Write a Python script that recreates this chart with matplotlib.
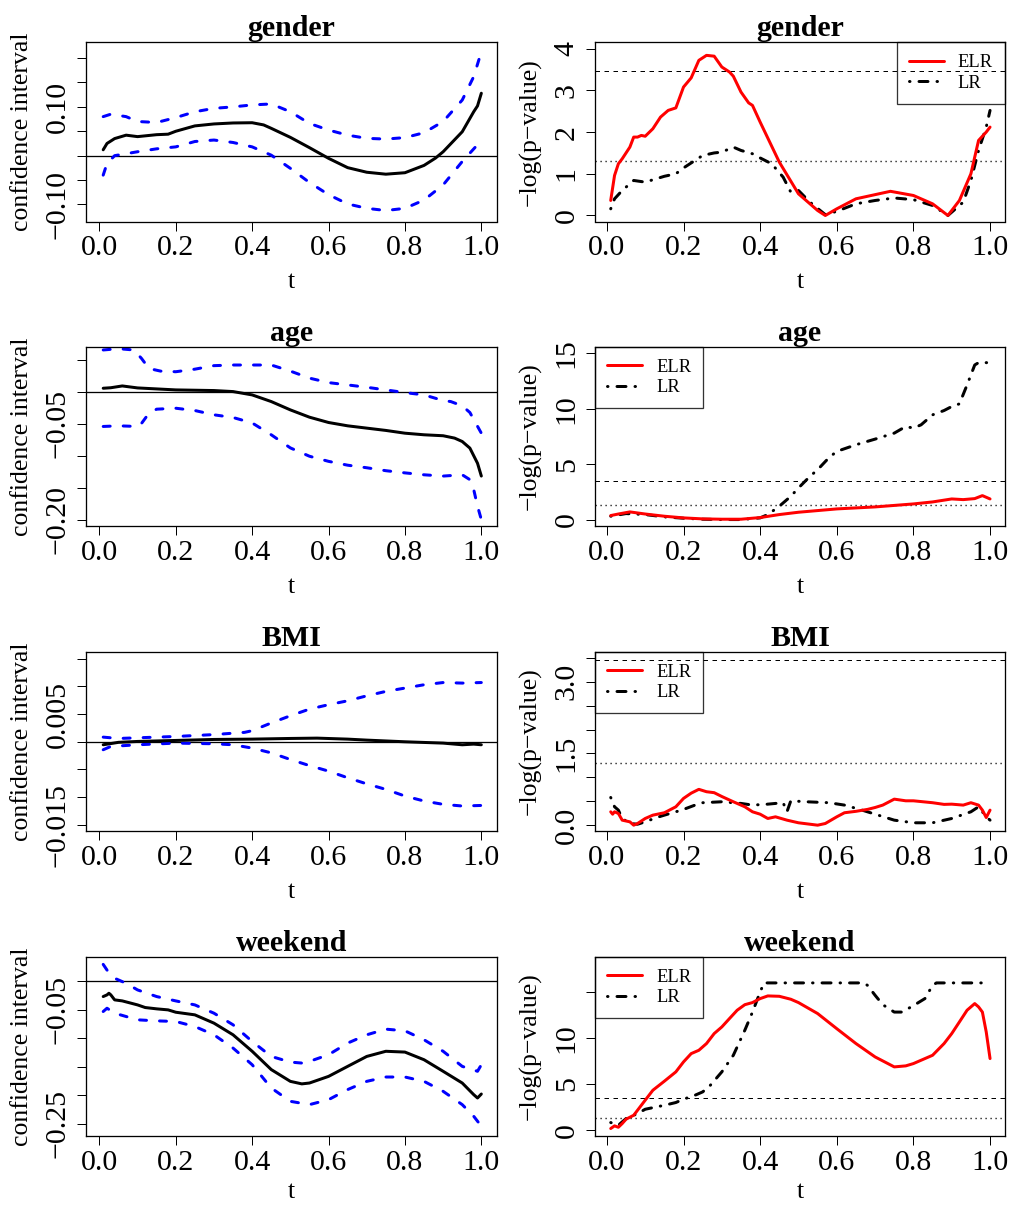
import matplotlib
matplotlib.use("Agg")
import matplotlib.pyplot as plt
import numpy as np

plt.rcParams['font.family'] = ['Liberation Serif', 'DejaVu Serif']
plt.rcParams['lines.scale_dashes'] = False

# ---------------- data ----------------
# gender: confidence interval (estimate, upper, lower)
gender_t_est = [0.01, 0.02, 0.04, 0.07, 0.10, 0.15, 0.18, 0.20, 0.25, 0.30, 0.35, 0.40, 0.43, 0.45, 0.50,
                0.55, 0.60, 0.65, 0.70, 0.75, 0.80, 0.85, 0.88, 0.90, 0.95, 0.98, 0.99, 1.00]
gender_est = [0.012, 0.025, 0.035, 0.042, 0.039, 0.043, 0.044, 0.050, 0.061, 0.065, 0.067, 0.0675, 0.063, 0.056,
              0.0375, 0.0164, -0.0055, -0.0246, -0.034, -0.038, -0.035, -0.020, -0.005, 0.008, 0.049, 0.090,
              0.102, 0.128]
gender_t_up = [0.01, 0.03, 0.07, 0.10, 0.15, 0.20, 0.25, 0.30, 0.35, 0.40, 0.45, 0.50, 0.55, 0.60, 0.65, 0.70,
               0.75, 0.80, 0.85, 0.90, 0.95, 0.98, 1.00]
gender_up = [0.080, 0.085, 0.080, 0.070, 0.068, 0.078, 0.090, 0.097, 0.100, 0.104, 0.106, 0.090, 0.066, 0.0525,
             0.042, 0.0355, 0.034, 0.037, 0.047, 0.070, 0.114, 0.162, 0.213]
gender_t_lo = [0.01, 0.02, 0.04, 0.10, 0.15, 0.20, 0.25, 0.30, 0.35, 0.40, 0.45, 0.50, 0.55, 0.60, 0.65, 0.70,
               0.75, 0.80, 0.85, 0.90, 0.95, 1.00]
gender_lo = [-0.040, -0.016, 0.0, 0.008, 0.014, 0.018, 0.029, 0.032, 0.027, 0.018, 0.001, -0.026, -0.055, -0.080,
             -0.099, -0.108, -0.1125, -0.108, -0.091, -0.060, -0.012, 0.031]

# gender: -log(p-value)
gender_t_elr = [0.01, 0.02, 0.03, 0.04, 0.06, 0.07, 0.08, 0.09, 0.10, 0.12, 0.14, 0.16, 0.18, 0.20, 0.22, 0.24,
                0.26, 0.28, 0.30, 0.32, 0.33, 0.35, 0.37, 0.38, 0.40, 0.45, 0.50, 0.55, 0.57, 0.60, 0.65, 0.70,
                0.74, 0.80, 0.85, 0.89, 0.92, 0.95, 0.97, 0.99, 1.00]
gender_elr = [0.36, 0.96, 1.24, 1.36, 1.64, 1.88, 1.88, 1.92, 1.90, 2.08, 2.36, 2.52, 2.58, 3.08, 3.30, 3.72,
              3.84, 3.82, 3.56, 3.44, 3.34, 2.96, 2.70, 2.64, 2.24, 1.28, 0.52, 0.12, 0.0, 0.16, 0.40, 0.50,
              0.58, 0.48, 0.28, 0.0, 0.36, 1.00, 1.80, 2.00, 2.12]
gender_t_lr = [0.01, 0.02, 0.04, 0.06, 0.07, 0.10, 0.15, 0.18, 0.20, 0.25, 0.28, 0.30, 0.33, 0.35, 0.38, 0.40,
               0.43, 0.46, 0.48, 0.50, 0.53, 0.57, 0.60, 0.65, 0.70, 0.75, 0.80, 0.85, 0.89, 0.93, 0.95, 0.97,
               0.99, 1.00]
gender_lr = [0.16, 0.40, 0.60, 0.76, 0.84, 0.80, 0.94, 1.00, 1.14, 1.44, 1.50, 1.52, 1.64, 1.56, 1.48, 1.38,
             1.24, 0.92, 0.56, 0.60, 0.32, 0.02, 0.10, 0.28, 0.36, 0.42, 0.38, 0.24, 0.0, 0.32, 0.84, 1.56,
             2.12, 2.52]

# age: confidence interval
age_t_est = [0.01, 0.03, 0.06, 0.10, 0.20, 0.30, 0.35, 0.40, 0.45, 0.50, 0.55, 0.60, 0.65, 0.70, 0.75, 0.80,
             0.85, 0.90, 0.93, 0.95, 0.97, 0.99, 1.00]
age_est = [0.0052, 0.006, 0.0088, 0.0057, 0.0026, 0.0016, 0.0, -0.0052, -0.0156, -0.0286, -0.040, -0.0483,
           -0.0535, -0.0571, -0.0607, -0.065, -0.0675, -0.069, -0.0727, -0.078, -0.0883, -0.112, -0.132]
age_t_up = [0.01, 0.05, 0.09, 0.11, 0.13, 0.16, 0.20, 0.25, 0.30, 0.35, 0.40, 0.45, 0.50, 0.55, 0.60, 0.65,
            0.70, 0.75, 0.80, 0.85, 0.90, 0.92, 0.95, 0.97, 1.00]
age_up = [0.065, 0.067, 0.065, 0.052, 0.036, 0.032, 0.031, 0.035, 0.0405, 0.0415, 0.0415, 0.0415, 0.032, 0.021,
          0.014, 0.0104, 0.0067, 0.0026, -0.0016, -0.0052, -0.014, -0.0156, -0.0223, -0.0327, -0.065]
age_t_lo = [0.01, 0.05, 0.10, 0.11, 0.13, 0.15, 0.20, 0.25, 0.30, 0.35, 0.40, 0.45, 0.50, 0.55, 0.60, 0.65,
            0.70, 0.75, 0.80, 0.85, 0.90, 0.95, 0.97, 0.98, 0.99, 1.00]
age_lo = [-0.0545, -0.0535, -0.0545, -0.050, -0.0337, -0.0275, -0.026, -0.0296, -0.0363, -0.0405, -0.049,
          -0.0675, -0.088, -0.101, -0.109, -0.115, -0.119, -0.1236, -0.127, -0.130, -0.132, -0.130, -0.1376,
          -0.153, -0.179, -0.200]

# age: -log(p-value)
age_t_elr = [0.01, 0.03, 0.06, 0.10, 0.15, 0.20, 0.25, 0.30, 0.35, 0.40, 0.45, 0.50, 0.60, 0.70, 0.80, 0.85,
             0.90, 0.93, 0.96, 0.98, 1.00]
age_elr = [0.36, 0.50, 0.69, 0.50, 0.30, 0.15, 0.06, 0.03, 0.03, 0.18, 0.45, 0.66, 0.96, 1.14, 1.41, 1.59,
           1.86, 1.80, 1.89, 2.16, 1.86]
age_t_lr = [0.01, 0.05, 0.10, 0.15, 0.20, 0.25, 0.30, 0.35, 0.40, 0.42, 0.45, 0.48, 0.50, 0.53, 0.55, 0.58,
            0.60, 0.65, 0.70, 0.75, 0.78, 0.80, 0.82, 0.85, 0.88, 0.90, 0.92, 0.94, 0.96, 0.97, 1.00]
age_lr = [0.30, 0.54, 0.45, 0.24, 0.12, 0.03, 0.0, 0.0, 0.15, 0.45, 1.20, 2.10, 2.85, 3.90, 4.50, 5.60, 6.15,
          6.75, 7.26, 7.80, 8.40, 8.25, 8.55, 9.45, 9.84, 10.20, 10.44, 12.15, 13.95, 14.16, 14.16]

# BMI: confidence interval
bmi_t_est = [0.01, 0.05, 0.10, 0.20, 0.30, 0.40, 0.50, 0.57, 0.65, 0.70, 0.80, 0.90, 0.95, 0.98, 1.00]
bmi_est = [-0.00054, -0.0001, 0.00006, 0.00024, 0.00042, 0.00048, 0.0006, 0.00066, 0.00048, 0.0003, 0.0,
           -0.00024, -0.00054, -0.00042, -0.00054]
bmi_t_up = [0.01, 0.05, 0.10, 0.20, 0.30, 0.38, 0.40, 0.45, 0.50, 0.55, 0.60, 0.65, 0.70, 0.75, 0.80, 0.85,
            0.90, 0.95, 1.00]
bmi_up = [0.00084, 0.0006, 0.00072, 0.00096, 0.0013, 0.0017, 0.0020, 0.0034, 0.0047, 0.0059, 0.0067, 0.0074,
          0.0083, 0.0091, 0.0097, 0.0103, 0.0107, 0.0106, 0.0107]
bmi_t_lo = [0.01, 0.03, 0.10, 0.20, 0.30, 0.35, 0.40, 0.45, 0.50, 0.55, 0.60, 0.65, 0.70, 0.75, 0.80, 0.85,
            0.90, 0.95, 1.00]
bmi_lo = [-0.00144, -0.00084, -0.00054, -0.00024, -0.00036, -0.00054, -0.00114, -0.0020, -0.0032, -0.0043,
          -0.0053, -0.0065, -0.0076, -0.0086, -0.0098, -0.0107, -0.0113, -0.0116, -0.0115]

# BMI: -log(p-value)
bmi_t_elr = [0.01, 0.015, 0.02, 0.03, 0.04, 0.06, 0.07, 0.08, 0.10, 0.12, 0.15, 0.18, 0.20, 0.22, 0.24, 0.26,
             0.28, 0.30, 0.33, 0.36, 0.38, 0.40, 0.42, 0.44, 0.47, 0.50, 0.55, 0.57, 0.60, 0.62, 0.65, 0.68,
             0.70, 0.72, 0.75, 0.78, 0.80, 0.85, 0.88, 0.90, 0.93, 0.95, 0.97, 0.98, 0.99, 1.00]
bmi_elr = [0.28, 0.23, 0.28, 0.245, 0.105, 0.07, 0.0, 0.035, 0.14, 0.21, 0.26, 0.385, 0.56, 0.67, 0.75, 0.70,
           0.68, 0.60, 0.49, 0.385, 0.28, 0.23, 0.14, 0.175, 0.105, 0.05, 0.0, 0.035, 0.175, 0.26, 0.29, 0.33,
           0.37, 0.42, 0.545, 0.51, 0.51, 0.47, 0.435, 0.44, 0.42, 0.47, 0.42, 0.315, 0.16, 0.315]
bmi_t_lr = [0.01, 0.02, 0.03, 0.04, 0.06, 0.08, 0.10, 0.13, 0.15, 0.18, 0.20, 0.23, 0.25, 0.30, 0.35, 0.38,
            0.42, 0.46, 0.47, 0.48, 0.52, 0.58, 0.62, 0.66, 0.70, 0.75, 0.80, 0.85, 0.90, 0.95, 0.97, 0.99,
            1.00]
bmi_lr = [0.58, 0.385, 0.315, 0.14, 0.035, 0.02, 0.07, 0.16, 0.21, 0.28, 0.33, 0.42, 0.47, 0.49, 0.455, 0.42,
          0.44, 0.47, 0.28, 0.51, 0.49, 0.47, 0.42, 0.33, 0.23, 0.105, 0.05, 0.05, 0.14, 0.28, 0.385, 0.175,
          0.105]

# weekend: confidence interval
wk_t_est = [0.01, 0.02, 0.025, 0.03, 0.04, 0.06, 0.10, 0.12, 0.15, 0.18, 0.20, 0.25, 0.30, 0.35, 0.40, 0.45,
            0.50, 0.53, 0.55, 0.60, 0.65, 0.70, 0.75, 0.80, 0.85, 0.90, 0.95, 0.98, 0.99, 1.00]
wk_est = [-0.0273, -0.0244, -0.0215, -0.0244, -0.0331, -0.0349, -0.0419, -0.0465, -0.0488, -0.0506, -0.0547,
          -0.0593, -0.0738, -0.0942, -0.123, -0.155, -0.1756, -0.180, -0.1785, -0.1669, -0.1494, -0.132,
          -0.123, -0.1244, -0.1378, -0.158, -0.1785, -0.1988, -0.2047, -0.1977]
wk_t_up = [0.01, 0.02, 0.04, 0.07, 0.10, 0.15, 0.20, 0.25, 0.30, 0.35, 0.40, 0.45, 0.50, 0.53, 0.55, 0.60,
           0.65, 0.70, 0.75, 0.80, 0.85, 0.90, 0.95, 0.99, 1.00]
wk_up = [0.029, 0.019, 0.0047, -0.0041, -0.0157, -0.0273, -0.0349, -0.0419, -0.0564, -0.0767, -0.1058, -0.132,
         -0.1419, -0.1436, -0.1407, -0.129, -0.1087, -0.0942, -0.0843, -0.0872, -0.1029, -0.123, -0.1494,
         -0.158, -0.1465]
wk_t_lo = [0.01, 0.02, 0.04, 0.07, 0.10, 0.15, 0.20, 0.25, 0.30, 0.35, 0.40, 0.45, 0.50, 0.55, 0.60, 0.65,
           0.70, 0.75, 0.80, 0.85, 0.90, 0.95, 0.98, 1.00]
wk_lo = [-0.0535, -0.0477, -0.0564, -0.0622, -0.068, -0.0698, -0.0709, -0.0797, -0.0942, -0.1174, -0.1465,
         -0.1872, -0.2105, -0.2163, -0.2076, -0.190, -0.1756, -0.168, -0.168, -0.1756, -0.193, -0.2163,
         -0.2366, -0.254]

# weekend: -log(p-value)
wk_t_elr = [0.01, 0.02, 0.03, 0.04, 0.05, 0.07, 0.10, 0.12, 0.15, 0.18, 0.20, 0.22, 0.24, 0.26, 0.28, 0.30,
            0.32, 0.34, 0.36, 0.38, 0.40, 0.42, 0.45, 0.48, 0.50, 0.55, 0.60, 0.65, 0.70, 0.75, 0.78, 0.80,
            0.85, 0.88, 0.90, 0.92, 0.94, 0.96, 0.97, 0.98, 0.99, 1.00]
wk_elr = [0.18, 0.47, 0.32, 0.72, 1.19, 1.62, 3.25, 4.33, 5.31, 6.32, 7.40, 8.30, 8.66, 9.39, 10.47, 11.19,
          12.10, 13.00, 13.60, 13.83, 14.26, 14.55, 14.51, 14.19, 13.83, 12.64, 11.00, 9.39, 7.94, 6.86, 6.97,
          7.22, 8.12, 9.39, 10.47, 11.73, 13.00, 13.72, 13.36, 12.80, 10.65, 7.76]
wk_t_lr = [0.01, 0.03, 0.05, 0.08, 0.10, 0.13, 0.15, 0.18, 0.20, 0.23, 0.25, 0.27, 0.30, 0.33, 0.36, 0.38,
           0.40, 0.41, 0.50, 0.67, 0.68, 0.70, 0.72, 0.75, 0.77, 0.80, 0.83, 0.85, 0.86, 1.00]
wk_lr = [0.83, 0.54, 1.26, 1.80, 2.27, 2.53, 2.70, 3.00, 3.36, 3.79, 4.15, 4.87, 6.32, 8.12, 10.83, 12.80,
         14.98, 15.96, 15.96, 15.96, 15.70, 14.62, 13.60, 12.80, 12.80, 13.50, 14.26, 15.70, 15.96, 15.96]

titles = ["gender", "age", "BMI", "weekend"]
thr_dashed = 3.46
thr_dotted = 1.30
legend_labels = ["ELR", "LR"]

# ---------------- layout / style ----------------
W, H = 1011, 1205
fig = plt.figure(figsize=(W / 100, H / 100), dpi=100)

px = 0.72  # points per pixel at 100 dpi
row_tops = [42, 346.7, 651.7, 956.7]
ph = 179.5
L_x0, L_w = 86, 411
R_x0, R_w = 595, 410

TICK_FS = 21.5
LAB_FS = 18.5
TITLE_FS = 21.5
LEG_FS = 13.3

blue_ls = (0, (7 * px, 13 * px))
thr_dash_ls = (0, (4.5 * px, 4.5 * px))
dot_ls = (0, (1.2 * px, 3.8 * px))
dashdot_ls = (0, (0.5 * px, 9 * px, 9 * px, 9 * px))


def make_ax(x0, top, w):
    return fig.add_axes([x0 / W, 1 - (top + ph) / H, w / W, ph / H])


def style(ax, xlim, ylim, yticks, ylabels, ylab, ylab_x, tlab_off):
    ax.set_xlim(*xlim)
    ax.set_ylim(*ylim)
    ax.set_xticks([0, 0.2, 0.4, 0.6, 0.8, 1.0])
    ax.set_xticklabels(["0.0", "0.2", "0.4", "0.6", "0.8", "1.0"])
    ax.set_yticks(yticks)
    ax.set_yticklabels(ylabels, rotation=90, va='center')
    ax.tick_params(axis='both', direction='out', length=9 * px, width=1 * px, labelsize=TICK_FS)
    ax.tick_params(axis='x', pad=3.2)
    ax.tick_params(axis='y', pad=4.5)
    for s in ax.spines.values():
        s.set_linewidth(1.3 * px)
    ax.set_xlabel("t", fontsize=LAB_FS)
    ax.xaxis.label.set_va('center')
    ax.xaxis.set_label_coords(0.5, -tlab_off / ph)
    ax.set_ylabel(ylab, fontsize=LAB_FS)
    ax.yaxis.label.set_va('center')
    ax.yaxis.set_label_coords(ylab_x, 0.5)


def fmt(v, nd):
    s = f"{v:.{nd}f}"
    return s.replace("-", "\u2212")


ci_data = [
    (gender_t_est, gender_est, gender_t_up, gender_up, gender_t_lo, gender_lo,
     (-0.135, 0.233), [-0.10, -0.05, 0, 0.05, 0.10, 0.15, 0.20], {-0.10, 0.10}, 2),
    (age_t_est, age_est, age_t_up, age_up, age_t_lo, age_lo,
     (-0.2103, 0.0701), [-0.20, -0.15, -0.10, -0.05, 0, 0.05], {-0.20, -0.05}, 2),
    (bmi_t_est, bmi_est, bmi_t_up, bmi_up, bmi_t_lo, bmi_lo,
     (-0.01615, 0.01627), [-0.015, -0.010, -0.005, 0, 0.005, 0.010, 0.015], {-0.015, 0.005}, 3),
    (wk_t_est, wk_est, wk_t_up, wk_up, wk_t_lo, wk_lo,
     (-0.2715, 0.0424), [-0.25, -0.20, -0.15, -0.10, -0.05, 0], {-0.25, -0.05}, 2),
]

p_data = [
    (gender_t_elr, gender_elr, gender_t_lr, gender_lr, (-0.144, 4.16), [0, 1, 2, 3, 4], {0, 1, 2, 3, 4}, 0,
     'upper right'),
    (age_t_elr, age_elr, age_t_lr, age_lr, (-0.6, 15.6), [0, 5, 10, 15], {0, 5, 10, 15}, 0, 'upper left'),
    (bmi_t_elr, bmi_elr, bmi_t_lr, bmi_lr, (-0.126, 3.63), [0, 0.5, 1.0, 1.5, 2.0, 2.5, 3.0, 3.5],
     {0.0, 1.5, 3.0}, 1, 'upper left'),
    (wk_t_elr, wk_elr, wk_t_lr, wk_lr, (-0.65, 18.8), [0, 5, 10, 15], {0, 5, 10}, 0, 'upper left'),
]

for i in range(4):
    top = row_tops[i]
    tlab_off = 60.5 if i < 3 else 55.5
    # ---- left: confidence intervals ----
    te, e, tu, u, tl, lo, ylim, yt, shown, nd = ci_data[i]
    ax = make_ax(L_x0, top, L_w)
    ax.axhline(0, color='black', lw=1.3 * px, zorder=1)
    ax.plot(tu, u, color='blue', lw=3 * px, ls=blue_ls, dash_capstyle='round', zorder=2)
    ax.plot(tl, lo, color='blue', lw=3 * px, ls=blue_ls, dash_capstyle='round', zorder=2)
    ax.plot(te, e, color='black', lw=3 * px, solid_capstyle='round', solid_joinstyle='round', zorder=3)
    labels = [fmt(v, nd) if any(abs(v - s) < 1e-9 for s in shown) else "" for v in yt]
    style(ax, (-0.035, 1.041), ylim, yt, labels, "confidence interval", -64 / L_w, tlab_off)
    ax.set_title(titles[i], fontsize=TITLE_FS, fontweight='bold', pad=2.5)

    # ---- right: -log(p-value) ----
    t1, y1, t2, y2, ylim, yt, shown, nd, loc = p_data[i]
    ax = make_ax(R_x0, top, R_w)
    ax.axhline(thr_dashed, color='black', lw=1.0 * px, ls=thr_dash_ls, zorder=1)
    ax.axhline(thr_dotted, color='black', lw=1.4 * px, ls=dot_ls, zorder=1)
    ax.plot(t2, y2, color='black', lw=3 * px, ls=dashdot_ls, dash_capstyle='round', zorder=2,
            label=legend_labels[1])
    ax.plot(t1, y1, color='red', lw=3 * px, solid_capstyle='round', solid_joinstyle='round', zorder=3,
            label=legend_labels[0])
    labels = [fmt(v, nd) if any(abs(v - s) < 1e-9 for s in shown) else "" for v in yt]
    style(ax, (-0.031, 1.039), ylim, yt, labels, "\u2212log(p\u2212value)", -65 / R_w, tlab_off)
    ax.set_title(titles[i], fontsize=TITLE_FS, fontweight='bold', pad=2.5)
    h, lab = ax.get_legend_handles_labels()
    leg = ax.legend(h[::-1], lab[::-1], loc=loc, fontsize=LEG_FS, frameon=True, fancybox=False,
                    edgecolor='black', facecolor='none', framealpha=None, borderaxespad=0,
                    handlelength=1.9, handletextpad=0.75, labelspacing=0.2, borderpad=0.65)
    leg.get_frame().set_linewidth(1.3 * px)

fig.savefig("out.png", dpi=100)
